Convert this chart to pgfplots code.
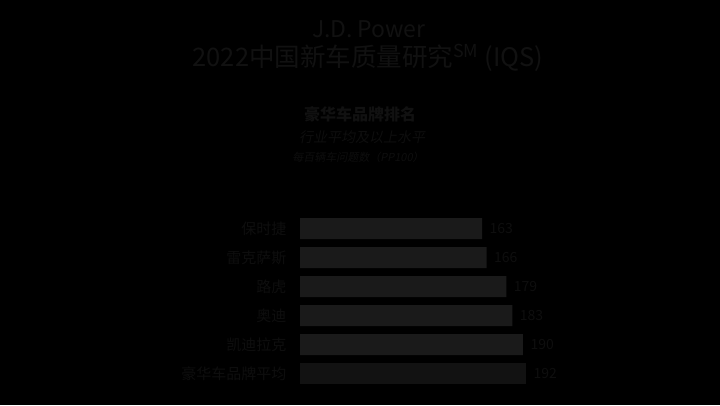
\documentclass[border=0pt]{standalone}
\usepackage{fontspec}
\setmainfont{Noto Sans CJK SC}
\newfontfamily\cjkit[FakeSlant=0.2]{Noto Sans CJK SC}
\usepackage{pgfplots}
\pgfplotsset{compat=1.18}
\definecolor{bg}{HTML}{000000}
\definecolor{txt}{HTML}{0E0E0E}
\definecolor{ttl}{HTML}{111111}
\definecolor{barc}{HTML}{1A1A1A}
\definecolor{avgc}{HTML}{121212}
\begin{document}
\begin{tikzpicture}[x=1pt,y=1pt]
\fill[bg] (0,0) rectangle (720,405);
\node[text=ttl, font=\fontsize{23}{23}\selectfont] at (369,376) {J.D. Power};
\node[text=ttl, font=\fontsize{25.5}{25.5}\selectfont] at (368,347) {2022中国新车质量研究\textsuperscript{SM} (IQS)};
\node[text=ttl, font=\fontsize{16}{16}\selectfont\bfseries] at (360,291) {豪华车品牌排名};
\node[text=txt, font=\fontsize{14}{14}\selectfont\cjkit] at (362,268) {行业平均及以上水平};
\node[text=txt, font=\fontsize{11}{11}\selectfont\cjkit] at (358,248) {每百辆车问题数（PP100）};
\begin{axis}[
  at={(300pt,17pt)}, anchor=south west,
  scale only axis, width=226pt, height=174pt,
  xbar, bar width=21pt, bar shift=0pt,
  xmin=43, xmax=192, ymin=-0.5, ymax=5.5, y dir=reverse,
  ytick={0,1,2,3,4,5},
  yticklabels={保时捷,雷克萨斯,路虎,奥迪,凯迪拉克,豪华车品牌平均},
  xtick=\empty,
  axis line style={draw=none},
  major tick length=0pt,
  /pgf/number format/assume math mode=true,
  yticklabel style={font=\fontsize{15}{15}\selectfont, text=txt, xshift=-10pt},
  clip mode=individual,
  nodes near coords,
  nodes near coords style={font=\fontsize{14}{14}\selectfont, text=txt, anchor=west, xshift=4pt},
]
\addplot[fill=barc, draw=none] coordinates {(163,0) (166,1) (179,2) (183,3) (190,4)};
\addplot[fill=avgc, draw=none] coordinates {(192,5)};
\end{axis}
\end{tikzpicture}
\end{document}
